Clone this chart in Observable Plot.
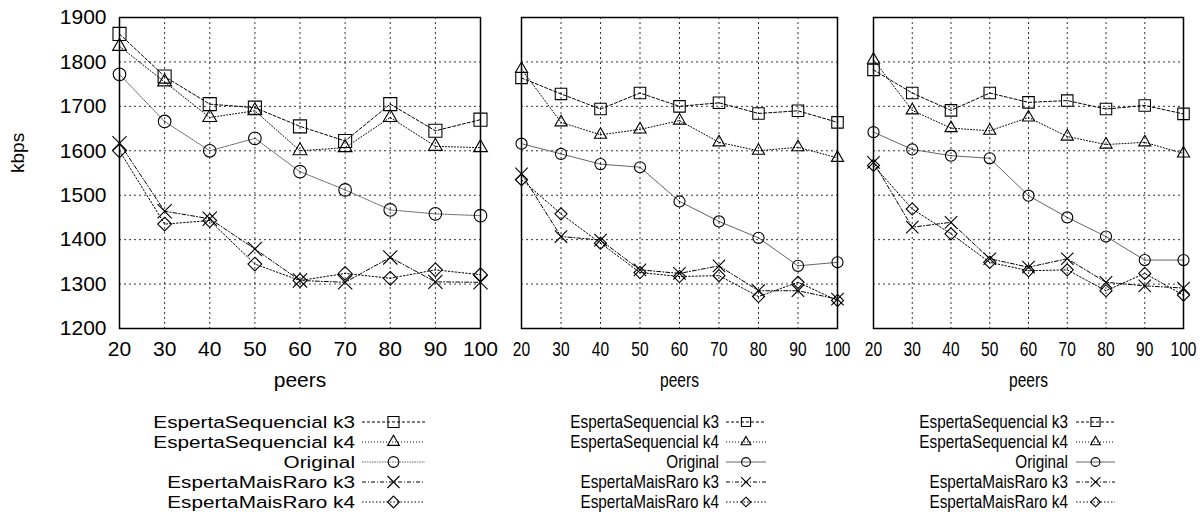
<!DOCTYPE html>
<html><head><meta charset="utf-8">
<script src="https://cdn.jsdelivr.net/npm/d3@7"></script>
<script src="https://cdn.jsdelivr.net/npm/@observablehq/plot@0.6"></script>
<style>
body{margin:0;background:#fff;}
#root{position:relative;width:1200px;height:521px;font-family:"Liberation Sans",Arial,Helvetica,sans-serif;}
#root svg{position:absolute;left:0;top:0;}
</style>
</head><body><div id="root"></div>
<script>
// ---- data ----
const peers = [20, 30, 40, 50, 60, 70, 80, 90, 100];
const yTicks = [1200, 1300, 1400, 1500, 1600, 1700, 1800, 1900];
const seriesNames = ["EspertaSequencial k3", "EspertaSequencial k4", "Original", "EspertaMaisRaro k3", "EspertaMaisRaro k4"];

// panel 1
const p1EsSeqK3   = [1863, 1767, 1705, 1697, 1655, 1622, 1705, 1645, 1670];
const p1EsSeqK4   = [1835, 1755, 1675, 1690, 1600, 1607, 1675, 1610, 1607];
const p1Original  = [1772, 1666, 1600, 1628, 1553, 1512, 1467, 1458, 1454];
const p1MaisRaroK3 = [1617, 1464, 1447, 1379, 1308, 1304, 1360, 1305, 1304];
const p1MaisRaroK4 = [1600, 1435, 1443, 1345, 1308, 1324, 1313, 1332, 1321];
// panel 2
const p2EsSeqK3   = [1764, 1728, 1694, 1730, 1700, 1708, 1684, 1690, 1664];
const p2EsSeqK4   = [1784, 1664, 1636, 1648, 1668, 1619, 1600, 1608, 1584];
const p2Original  = [1616, 1593, 1570, 1563, 1486, 1441, 1404, 1341, 1349];
const p2MaisRaroK3 = [1548, 1407, 1399, 1332, 1324, 1341, 1285, 1285, 1266];
const p2MaisRaroK4 = [1535, 1458, 1392, 1326, 1317, 1319, 1272, 1304, 1263];
// panel 3
const p3EsSeqK3   = [1782, 1730, 1691, 1730, 1709, 1713, 1694, 1702, 1683];
const p3EsSeqK4   = [1805, 1691, 1651, 1645, 1675, 1632, 1614, 1619, 1594];
const p3Original  = [1642, 1603, 1589, 1583, 1499, 1450, 1407, 1354, 1354];
const p3MaisRaroK3 = [1574, 1428, 1439, 1357, 1338, 1357, 1304, 1296, 1291];
const p3MaisRaroK4 = [1567, 1469, 1413, 1349, 1330, 1332, 1285, 1324, 1275];

// ---- styles ----
const styles = [
  {symbol: "square2",  d3sym: d3.symbolSquare2,  r: 8.3, dash: "3,2",     stroke: "#000"},
  {symbol: "triangle2",d3sym: d3.symbolTriangle2,r: 6.6, dash: "1,2",     stroke: "#000"},
  {symbol: "circle",   d3sym: d3.symbolCircle,   r: 6.3, dash: null,      stroke: "#666"},
  {symbol: "times",    d3sym: d3.symbolTimes,    r: 6.5, dash: "4,2,1,2", stroke: "#000"},
  {symbol: "diamond2", d3sym: d3.symbolDiamond2, r: 6.2, dash: "1.5,2",   stroke: "#000"}
];

const panels = [
  {values: [p1EsSeqK3, p1EsSeqK4, p1Original, p1MaisRaroK3, p1MaisRaroK4],
   left: 119, right: 480, yAxis: true, textScale: 1, symScale: 1, origDash: "1.5,1",
   legend: {textRight: 355, x1: 362, x2: 425, font: 17, scale: 1.22, symScale: 0.85}},
  {values: [p2EsSeqK3, p2EsSeqK4, p2Original, p2MaisRaroK3, p2MaisRaroK4],
   left: 521, right: 837, yAxis: false, textScale: 0.74, symScale: 0.88, origDash: null,
   legend: {textRight: 719, x1: 726, x2: 766, font: 18, scale: 0.85, symScale: 0.7}},
  {values: [p3EsSeqK3, p3EsSeqK4, p3Original, p3MaisRaroK3, p3MaisRaroK4],
   left: 873, right: 1183, yAxis: false, textScale: 0.74, symScale: 0.88, origDash: null,
   legend: {textRight: 1068, x1: 1076, x2: 1115, font: 18, scale: 0.85, symScale: 0.7}}
];

const root = document.getElementById("root");
const top0 = 17, bottom0 = 328;

panels.forEach((p) => {
  const marks = [
    Plot.gridX(peers.slice(1, -1), {stroke: "#000", strokeOpacity: 0.8, strokeWidth: 1, strokeDasharray: "2,3"}),
    Plot.gridY(yTicks.slice(1, -1), {stroke: "#000", strokeOpacity: 0.8, strokeWidth: 1, strokeDasharray: "2,3"})
  ];
  const seriesData = p.values.map((arr, si) => arr.map((v, i) => ({peers: peers[i], kbps: v, series: seriesNames[si]})));
  seriesData.forEach((d, si) => {
    const st = styles[si];
    const dash = si === 2 ? p.origDash : st.dash;
    marks.push(Plot.line(d, {x: "peers", y: "kbps", stroke: st.stroke, strokeWidth: 1, strokeDasharray: dash}));
  });
  seriesData.forEach((d, si) => {
    const st = styles[si];
    marks.push(Plot.dot(d, {x: "peers", y: "kbps", symbol: st.symbol, r: st.r * p.symScale, stroke: "#000", fill: "none", strokeWidth: 1.1}));
    marks.push(Plot.dot(d, {x: "peers", y: "kbps", r: 0.6, fill: "#000", stroke: "none"}));
  });
  marks.push(Plot.frame({stroke: "#000", strokeWidth: 1.5}));
  marks.push(Plot.axisX(peers, {tickSize: 0, tickPadding: 13, fontSize: 21, label: null, tickFormat: d => String(d)}));
  if (p.yAxis) marks.push(Plot.axisY(yTicks, {tickSize: 0, tickPadding: 13, fontSize: 21, label: null, tickFormat: d => String(d)}));
  marks.push(Plot.text(["peers"], {frameAnchor: "bottom", dy: 58, fontSize: 21}));
  if (p.yAxis) marks.push(Plot.text(["kbps"], {frameAnchor: "left", dx: -102, rotate: -90, fontSize: 19}));

  const chart = Plot.plot({
    width: 1200, height: 521,
    marginLeft: p.left, marginRight: 1200 - p.right, marginTop: top0, marginBottom: 521 - bottom0,
    x: {type: "linear", domain: [20, 100], axis: null},
    y: {type: "linear", domain: [1200, 1900], axis: null},
    style: {fontFamily: '"Liberation Sans", Arial, Helvetica, sans-serif', background: "transparent", color: "#000", overflow: "visible"},
    marks
  });

  if (p.textScale !== 1) {
    chart.querySelectorAll("text").forEach(t => {
      t.setAttribute("transform", (t.getAttribute("transform") || "") + ` scale(${p.textScale},1)`);
    });
  }

  // legend
  const L = p.legend;
  const g = d3.select(chart).append("g").attr("font-family", '"Liberation Sans", Arial, sans-serif');
  seriesNames.forEach((name, i) => {
    const st = styles[i];
    const y = 422 + 20 * i;
    g.append("text")
      .attr("transform", `translate(${L.textRight},${y}) scale(${L.scale},1)`)
      .attr("text-anchor", "end").attr("dy", "0.36em").attr("font-size", L.font)
      .attr("fill", "#000").text(name);
    g.append("line").attr("x1", L.x1).attr("x2", L.x2).attr("y1", y).attr("y2", y)
      .attr("stroke", st.stroke).attr("stroke-width", 1)
      .attr("stroke-dasharray", i === 2 ? (p.origDash || null) : st.dash);
    const rr = st.r * L.symScale;
    g.append("path").attr("d", d3.symbol(st.d3sym, Math.PI * rr * rr)())
      .attr("transform", `translate(${(L.x1 + L.x2) / 2},${y})`)
      .attr("fill", "none").attr("stroke", "#000").attr("stroke-width", 1.1);
  });

  root.appendChild(chart);
});
</script>
</body></html>
